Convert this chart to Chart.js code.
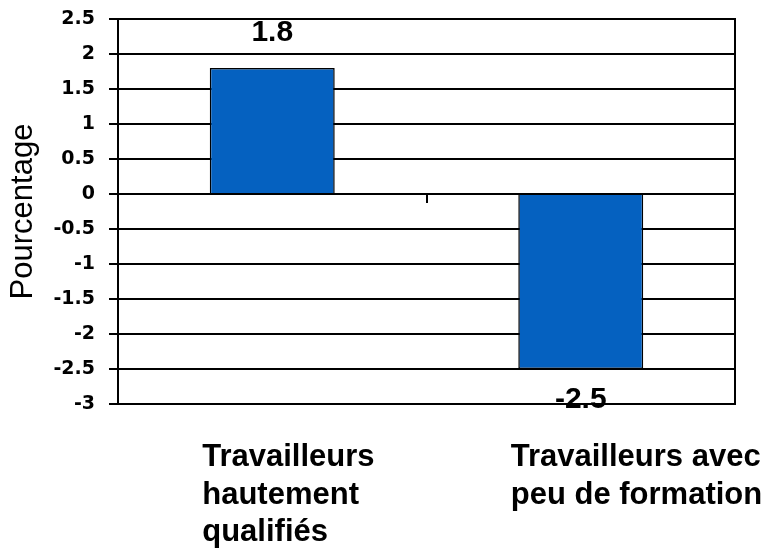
<!DOCTYPE html>
<html>
<head>
<meta charset="utf-8">
<script src="https://cdn.jsdelivr.net/npm/chart.js@4/dist/chart.umd.min.js"></script>
<style>
html,body{margin:0;padding:0;background:#fff;}
#wrap{width:772px;height:551px;}
</style>
</head>
<body>
<div id="wrap"><canvas id="c" width="772" height="551"></canvas></div>
<script>
const categories = [["Travailleurs","hautement","qualifiés"],["Travailleurs avec","peu de formation"]];
const values = [1.8, -2.5];
const dataLabels = ["1.8", "-2.5"];
const yMin = -3, yMax = 2.5, yStep = 0.5;
const yTitle = "Pourcentage";

const FONT = "'Liberation Sans', Arial, sans-serif";
const TICKFONT = "'DejaVu Sans', 'Liberation Sans', sans-serif";

const frame = {
  id: 'frame',
  beforeDatasetsDraw(chart) {
    const {ctx, chartArea: a} = chart;
    ctx.save();
    ctx.strokeStyle = '#000';
    ctx.lineWidth = 2;
    ctx.strokeRect(a.left, a.top, a.right - a.left, a.bottom - a.top);
    const xs = chart.scales.x, ys = chart.scales.y;
    const y0 = ys.getPixelForValue(0);
    for (let i = 0; i < categories.length - 1; i++) {
      const xm = Math.round((xs.getPixelForTick(i) + xs.getPixelForTick(i + 1)) / 2);
      ctx.beginPath();
      ctx.moveTo(xm, y0);
      ctx.lineTo(xm, y0 + 9);
      ctx.stroke();
    }
    ctx.restore();
  },
  afterDatasetsDraw(chart) {
    const {ctx} = chart;
    const meta = chart.getDatasetMeta(0);
    ctx.save();
    ctx.fillStyle = '#000';
    ctx.font = "bold 30px " + FONT;
    ctx.textAlign = 'center';
    ctx.textBaseline = 'middle';
    meta.data.forEach((bar, i) => {
      const v = values[i];
      const y = v >= 0 ? bar.y - 35 : bar.y + 31;
      ctx.fillText(dataLabels[i], bar.x, y);
    });
    ctx.restore();
  }
};

new Chart(document.getElementById('c'), {
  type: 'bar',
  data: {
    labels: categories,
    datasets: [{
      data: values,
      backgroundColor: '#0561c0',
      borderColor: '#000',
      borderWidth: 1.5,
      categoryPercentage: 1,
      barPercentage: 0.405
    }]
  },
  options: {
    responsive: false,
    animation: false,
    devicePixelRatio: 1,
    layout: {padding: {top: 19, right: 37, left: 0, bottom: 0}},
    plugins: {legend: {display: false}, tooltip: {enabled: false}},
    scales: {
      x: {
        position: 'bottom',
        grid: {display: false, drawTicks: false},
        border: {display: false},
        ticks: {
          color: '#000',
          font: {family: FONT, size: 31, weight: 'bold', lineHeight: 1.21},
          align: 'start',
          labelOffset: -70,
          padding: 35,
          maxRotation: 0,
          autoSkip: false
        },
        afterFit(s) { s.height = 147; s.paddingLeft = 0; s.paddingRight = 0; }
      },
      y: {
        min: yMin, max: yMax,
        grid: {color: '#000', lineWidth: 2, tickLength: 9, tickColor: '#000', drawTicks: true},
        border: {display: true, color: '#000', width: 2},
        ticks: {
          stepSize: yStep,
          color: '#000',
          padding: 14,
          font: {family: TICKFONT, size: 19, weight: 'bold'},
          callback: v => String(v)
        },
        title: {
          display: true,
          text: yTitle,
          color: '#000',
          font: {family: FONT, size: 31},
          padding: {top: 5, bottom: 0}
        },
        afterFit(s) { s.width = 118; s.paddingTop = 0; s.paddingBottom = 0; }
      }
    }
  },
  plugins: [frame]
});
</script>
</body>
</html>
